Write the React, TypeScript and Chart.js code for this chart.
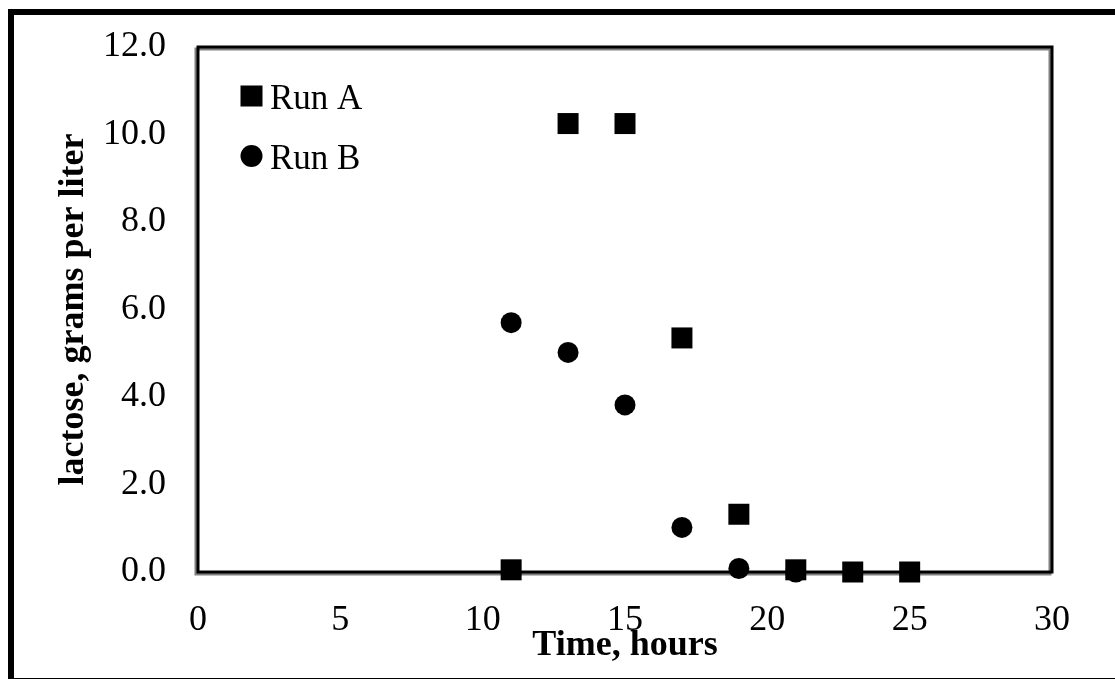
import React, { useEffect, useRef } from "react";
import { Chart, registerables } from "chart.js";

Chart.register(...registerables);

const timeA = [11, 13, 15, 17, 19, 21, 23, 25];
const runA = [0.05, 10.25, 10.25, 5.35, 1.32, 0.05, 0.0, 0.0];
const timeB = [11, 13, 15, 17, 19, 21];
const runB = [5.7, 5.02, 3.82, 1.02, 0.08, 0.0];
const seriesLabels = ["Run A", "Run B"];
const xTitle = "Time, hours";
const yTitle = "lactose, grams per liter";

const SERIF = "'Liberation Serif', 'Times New Roman', serif";

const framePlugin = {
  id: "frame",
  beforeDatasetsDraw(chart: any) {
    const { ctx, chartArea } = chart;
    const { left, top, right, bottom } = chartArea;
    ctx.save();
    ctx.lineWidth = 3;
    ctx.strokeStyle = "#808080";
    ctx.strokeRect(left - 2, top + 2, right - left, bottom - top);
    ctx.strokeStyle = "#000";
    ctx.strokeRect(left, top, right - left, bottom - top);
    ctx.restore();
  },
};

const legendPlugin = {
  id: "insideLegend",
  afterDraw(chart: any) {
    const { ctx, chartArea } = chart;
    ctx.save();
    ctx.fillStyle = "#000";
    ctx.font = `35px ${SERIF}`;
    ctx.textBaseline = "alphabetic";
    ctx.textAlign = "left";
    chart.data.datasets.forEach((ds: any, i: number) => {
      const cx = chartArea.left + 53.5;
      const cy = chartArea.top + 49 + i * 60;
      if (ds.pointStyle === "rect") {
        ctx.fillRect(cx - 11, cy - 10.5, 22, 21);
      } else {
        ctx.beginPath();
        ctx.arc(cx, cy, 11, 0, Math.PI * 2);
        ctx.fill();
      }
      ctx.fillText(ds.label, chartArea.left + 72, chartArea.top + 62 + i * 60);
    });
    ctx.restore();
  },
};

export default function App() {
  const ref = useRef<HTMLCanvasElement>(null);
  useEffect(() => {
    if (!ref.current) return;
    const chart = new Chart(ref.current, {
      type: "scatter",
      data: {
        datasets: [
          {
            label: seriesLabels[0],
            data: timeA.map((t, i) => ({ x: t, y: runA[i] })),
            pointStyle: "rect",
            pointRadius: 14.85,
            pointBorderWidth: 0,
            backgroundColor: "#000",
            borderColor: "#000",
            clip: false as any,
          },
          {
            label: seriesLabels[1],
            data: timeB.map((t, i) => ({ x: t, y: runB[i] })),
            pointStyle: "circle",
            pointRadius: 10.5,
            pointBorderWidth: 0,
            backgroundColor: "#000",
            borderColor: "#000",
            clip: false as any,
          },
        ],
      },
      options: {
        responsive: false,
        animation: false,
        devicePixelRatio: 1,
        layout: { padding: { left: 0, top: 47, right: 63, bottom: 0 } },
        plugins: {
          legend: { display: false },
          tooltip: { enabled: false },
        },
        scales: {
          x: {
            type: "linear",
            min: 0,
            max: 30,
            grid: { display: false, drawTicks: false },
            border: { display: false },
            ticks: {
              stepSize: 5,
              padding: 27,
              color: "#000",
              font: { family: SERIF, size: 36 },
            },
            title: {
              display: true,
              text: xTitle,
              color: "#000",
              font: { family: SERIF, size: 36, weight: "bold" },
              padding: { top: 0, bottom: 12 },
            },
            afterFit(scale: any) {
              scale.height = 107;
              scale.paddingLeft = 0;
              scale.paddingRight = 0;
            },
          },
          y: {
            type: "linear",
            min: 0,
            max: 12,
            grid: { display: false, drawTicks: false },
            border: { display: false },
            ticks: {
              stepSize: 2,
              padding: 32,
              color: "#000",
              font: { family: SERIF, size: 36 },
              callback: (v: any) => Number(v).toFixed(1),
            },
            title: {
              display: true,
              text: yTitle,
              color: "#000",
              font: { family: SERIF, size: 36, weight: "bold" },
              padding: { top: 52, bottom: 0 },
            },
            afterFit(scale: any) {
              scale.width = 198;
              scale.paddingTop = 0;
              scale.paddingBottom = 0;
            },
          },
        },
      },
      plugins: [framePlugin, legendPlugin],
    });
    return () => chart.destroy();
  }, []);

  return (
    <div
      style={{
        position: "fixed",
        left: 0,
        top: 0,
        width: 1115,
        height: 679,
        overflow: "hidden",
        background: "#fff",
      }}
    >
      <canvas
        ref={ref}
        width={1115}
        height={679}
        style={{ position: "absolute", left: 0, top: 0, width: 1115, height: 679 }}
      />
      <div
        style={{
          position: "absolute",
          left: 8,
          top: 9,
          width: 1125,
          height: 675,
          border: "6px solid #000",
          boxSizing: "border-box",
          pointerEvents: "none",
        }}
      />
    </div>
  );
}
